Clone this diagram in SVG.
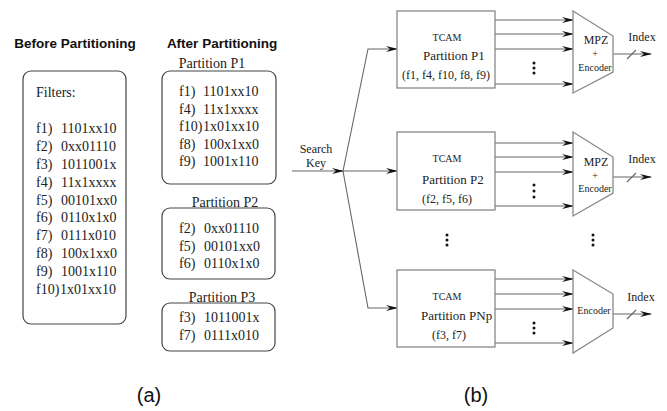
<svg xmlns="http://www.w3.org/2000/svg" width="667" height="411" viewBox="0 0 667 411">
  <style>
    .serif { font-family: "Liberation Serif", "Times New Roman", serif; fill: #222; }
    .sans { font-family: "Liberation Sans", Arial, sans-serif; fill: #111; }
    .hdr { font-size: 13.5px; font-weight: bold; }
    .lbl { font-size: 20px; }
    .f14 { font-size: 14px; }
    .f13 { font-size: 13px; }
    .f12 { font-size: 12px; }
    .f10 { font-size: 10px; }
    .rbox { fill: none; stroke: #444; stroke-width: 1.2; }
    .tbox { fill: #fff; stroke: #888; stroke-width: 1.3; }
    .mux { fill: #fff; stroke: #888; stroke-width: 1.3; }
    .wire { fill: none; stroke: #666; stroke-width: 1.1; }
    .dot { fill: #111; }
  </style>
  <defs>
    <marker id="arr" viewBox="0 0 12 8" refX="11" refY="4" markerWidth="12" markerHeight="8" markerUnits="userSpaceOnUse" orient="auto">
      <path d="M0,1 L12,4 L0,7 L4,4 z" fill="#111"/>
    </marker>
  </defs>

  <!-- (a) filter partitioning -->
  <g id="headers">
    <text class="sans hdr" x="75" y="48" text-anchor="middle">Before Partitioning</text>
    <text class="sans hdr" x="222" y="48" text-anchor="middle">After Partitioning</text>
  </g>

  <g id="filters">
    <rect class="rbox" x="23" y="71" width="103" height="253" rx="8"/>
    <text class="serif f14" x="36" y="97">Filters:</text>
    <text class="serif f14" x="36" y="133">f1)<tspan x="61">1101xx10</tspan></text>
    <text class="serif f14" x="36" y="151">f2)<tspan x="61">0xx01110</tspan></text>
    <text class="serif f14" x="36" y="169">f3)<tspan x="61">1011001x</tspan></text>
    <text class="serif f14" x="36" y="187">f4)<tspan x="61">11x1xxxx</tspan></text>
    <text class="serif f14" x="36" y="205">f5)<tspan x="61">00101xx0</tspan></text>
    <text class="serif f14" x="36" y="222">f6)<tspan x="61">0110x1x0</tspan></text>
    <text class="serif f14" x="36" y="240">f7)<tspan x="61">0111x010</tspan></text>
    <text class="serif f14" x="36" y="258">f8)<tspan x="61">100x1xx0</tspan></text>
    <text class="serif f14" x="36" y="276">f9)<tspan x="61">1001x110</tspan></text>
    <text class="serif f14" x="36" y="294">f10)<tspan x="60">1x01xx10</tspan></text>
  </g>

  <g id="part-p1">
    <text class="serif f14" x="212" y="68" text-anchor="middle">Partition P1</text>
    <rect class="rbox" x="162" y="71" width="114" height="113" rx="8"/>
    <text class="serif f14" x="179" y="96">f1)<tspan x="203">1101xx10</tspan></text>
    <text class="serif f14" x="179" y="113.5">f4)<tspan x="203">11x1xxxx</tspan></text>
    <text class="serif f14" x="179" y="131">f10)<tspan x="203">1x01xx10</tspan></text>
    <text class="serif f14" x="179" y="148.5">f8)<tspan x="203">100x1xx0</tspan></text>
    <text class="serif f14" x="179" y="166">f9)<tspan x="203">1001x110</tspan></text>
  </g>

  <g id="part-p2">
    <text class="serif f14" x="225" y="207" text-anchor="middle">Partition P2</text>
    <rect class="rbox" x="162" y="208" width="113" height="71" rx="8"/>
    <text class="serif f14" x="179" y="233">f2)<tspan x="204">0xx01110</tspan></text>
    <text class="serif f14" x="179" y="251">f5)<tspan x="204">00101xx0</tspan></text>
    <text class="serif f14" x="179" y="268">f6)<tspan x="204">0110x1x0</tspan></text>
  </g>

  <g id="part-p3">
    <text class="serif f14" x="222" y="302" text-anchor="middle">Partition P3</text>
    <rect class="rbox" x="162" y="303" width="113" height="48" rx="8"/>
    <text class="serif f14" x="179" y="322">f3)<tspan x="204">1011001x</tspan></text>
    <text class="serif f14" x="179" y="340">f7)<tspan x="204">0111x010</tspan></text>
  </g>

  <!-- (b) partitioned TCAM lookup -->
  <g id="connectors">
    <!-- search key fan-out -->
    <line class="wire" x1="292" y1="171" x2="343" y2="171" marker-end="url(#arr)"/>
    <polyline class="wire" points="343,171 368,49 397,49" marker-end="url(#arr)"/>
    <line class="wire" x1="343" y1="171" x2="397" y2="171" marker-end="url(#arr)"/>
    <polyline class="wire" points="343,171 368,308 397,308" marker-end="url(#arr)"/>
    <!-- match lines P1 -->
    <line class="wire" x1="495" y1="20" x2="573" y2="20" marker-end="url(#arr)"/>
    <line class="wire" x1="495" y1="34" x2="573" y2="34" marker-end="url(#arr)"/>
    <line class="wire" x1="495" y1="49" x2="573" y2="49" marker-end="url(#arr)"/>
    <line class="wire" x1="495" y1="84" x2="573" y2="84" marker-end="url(#arr)"/>
    <!-- match lines P2 -->
    <line class="wire" x1="495" y1="143" x2="573" y2="143" marker-end="url(#arr)"/>
    <line class="wire" x1="495" y1="157" x2="573" y2="157" marker-end="url(#arr)"/>
    <line class="wire" x1="495" y1="172" x2="573" y2="172" marker-end="url(#arr)"/>
    <line class="wire" x1="495" y1="206" x2="573" y2="206" marker-end="url(#arr)"/>
    <!-- match lines PNp -->
    <line class="wire" x1="495" y1="279" x2="573" y2="279" marker-end="url(#arr)"/>
    <line class="wire" x1="495" y1="294" x2="573" y2="294" marker-end="url(#arr)"/>
    <line class="wire" x1="495" y1="309" x2="573" y2="309" marker-end="url(#arr)"/>
    <line class="wire" x1="495" y1="343" x2="573" y2="343" marker-end="url(#arr)"/>
    <!-- index outputs with bus slash -->
    <line class="wire" x1="613" y1="54" x2="651" y2="54" marker-end="url(#arr)"/>
    <line class="wire" x1="627" y1="59" x2="636" y2="50"/>
    <line class="wire" x1="613" y1="177" x2="651" y2="177" marker-end="url(#arr)"/>
    <line class="wire" x1="627" y1="182" x2="636" y2="173"/>
    <line class="wire" x1="613" y1="314" x2="651" y2="314" marker-end="url(#arr)"/>
    <line class="wire" x1="627" y1="319" x2="636" y2="310"/>
  </g>

  <g id="search-key">
    <text class="serif f12" x="316" y="153" text-anchor="middle">Search</text>
    <text class="serif f12" x="316" y="167" text-anchor="middle">Key</text>
  </g>

  <g id="tcam-p1">
    <rect class="tbox" x="397" y="11" width="98" height="77"/>
    <text class="serif f10" x="447" y="41" text-anchor="middle">TCAM</text>
    <text class="serif f13" x="423" y="60">Partition P1</text>
    <text class="serif f12" x="446" y="79" text-anchor="middle">(f1, f4, f10, f8, f9)</text>
    <circle class="dot" cx="534" cy="63" r="1.5"/>
    <circle class="dot" cx="534" cy="68" r="1.5"/>
    <circle class="dot" cx="534" cy="73" r="1.5"/>
  </g>

  <g id="tcam-p2">
    <rect class="tbox" x="397" y="132" width="98" height="78"/>
    <text class="serif f10" x="447" y="162" text-anchor="middle">TCAM</text>
    <text class="serif f13" x="422" y="184">Partition P2</text>
    <text class="serif f12" x="447" y="203" text-anchor="middle">(f2, f5, f6)</text>
    <circle class="dot" cx="534" cy="185" r="1.5"/>
    <circle class="dot" cx="534" cy="191" r="1.5"/>
    <circle class="dot" cx="534" cy="197" r="1.5"/>
  </g>

  <g id="ellipsis">
    <circle class="dot" cx="447" cy="235" r="1.5"/>
    <circle class="dot" cx="447" cy="240" r="1.5"/>
    <circle class="dot" cx="447" cy="245" r="1.5"/>
    <circle class="dot" cx="593" cy="235" r="1.5"/>
    <circle class="dot" cx="593" cy="240" r="1.5"/>
    <circle class="dot" cx="593" cy="245" r="1.5"/>
  </g>

  <g id="tcam-pnp">
    <rect class="tbox" x="397" y="270" width="98" height="77"/>
    <text class="serif f10" x="447" y="300" text-anchor="middle">TCAM</text>
    <text class="serif f13" x="421" y="320">Partition PNp</text>
    <text class="serif f12" x="449" y="339" text-anchor="middle">(f3, f7)</text>
    <circle class="dot" cx="534" cy="323" r="1.5"/>
    <circle class="dot" cx="534" cy="328" r="1.5"/>
    <circle class="dot" cx="534" cy="333" r="1.5"/>
  </g>

  <g id="mux-1">
    <polygon class="mux" points="573,11 613,36 613,72 573,93"/>
    <text class="serif f12" x="596" y="44" text-anchor="middle">MPZ</text>
    <text class="serif f10" x="595" y="57" text-anchor="middle">+</text>
    <text class="serif f10" x="595" y="71" text-anchor="middle">Encoder</text>
    <text class="serif f12" x="642" y="41" text-anchor="middle">Index</text>
  </g>

  <g id="mux-2">
    <polygon class="mux" points="573,132 613,157 613,193 573,216"/>
    <text class="serif f12" x="596" y="166" text-anchor="middle">MPZ</text>
    <text class="serif f10" x="595" y="179" text-anchor="middle">+</text>
    <text class="serif f10" x="595" y="192" text-anchor="middle">Encoder</text>
    <text class="serif f12" x="642" y="163" text-anchor="middle">Index</text>
  </g>

  <g id="mux-3">
    <polygon class="mux" points="573,270 613,294 613,328 573,353"/>
    <text class="serif f10" x="594" y="314" text-anchor="middle">Encoder</text>
    <text class="serif f12" x="641" y="301" text-anchor="middle">Index</text>
  </g>

  <g id="captions">
    <text class="sans lbl" x="149" y="402" text-anchor="middle">(a)</text>
    <text class="sans lbl" x="476" y="402" text-anchor="middle">(b)</text>
  </g>
</svg>
